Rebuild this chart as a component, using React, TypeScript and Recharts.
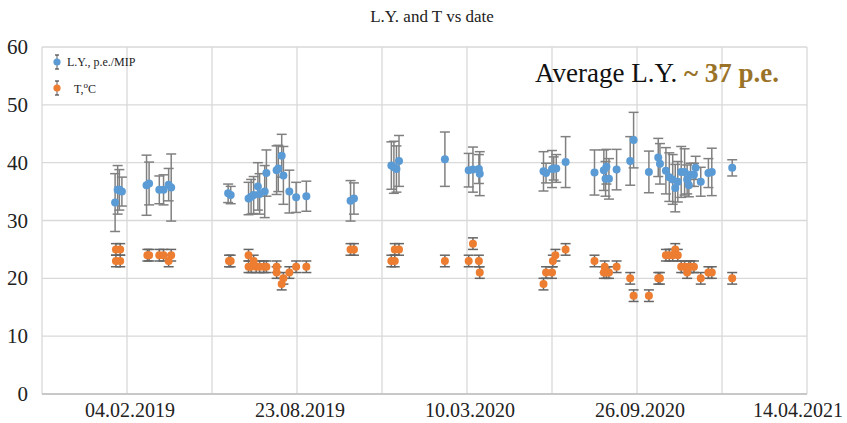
import React from 'react';
import {
  ScatterChart,
  Scatter,
  XAxis,
  YAxis,
  CartesianGrid,
  ErrorBar,
} from 'recharts';

// days counted from 04.02.2019
const lyDays = [
  -14, -11, -9, -6, 23, 26, 38, 43, 49, 52,
  119, 122, 143, 146, 149, 154, 156, 162, 164, 176,
  178, 182, 184, 191, 199, 211, 263, 267, 311, 314,
  317, 320, 374, 402, 407, 414, 415, 490, 493, 500,
  502, 505, 516, 550, 561, 563, 564, 567, 576, 592,
  596, 614, 625, 627, 634, 638, 642, 645, 648, 652,
  656, 659, 661, 663, 667, 669, 675, 684, 688, 712,
];
const lyValues = [
  33.1, 35.3, 35.3, 35.0, 36.1, 36.4, 35.3, 35.3, 36.2, 35.7,
  34.7, 34.4, 33.8, 34.1, 34.4, 35.9, 34.6, 35.0, 38.2, 38.7,
  39.0, 41.2, 37.8, 35.0, 34.0, 34.2, 33.4, 33.8, 39.5, 39.2,
  38.9, 40.3, 40.6, 38.7, 38.8, 38.9, 38.1, 38.5, 38.2, 38.9,
  39.0, 39.0, 40.1, 38.3, 38.7, 37.2, 39.3, 37.2, 38.8, 40.3,
  43.9, 38.4, 40.9, 39.8, 38.6, 37.5, 37.1, 35.6, 36.7, 38.4,
  38.4, 37.1, 36.1, 37.9, 37.9, 39.1, 36.7, 38.2, 38.4, 39.1,
];
const lyErrors = [
  5, 4.2, 3.5, 2.5, 5.2, 3.7, 2.4, 2.6, 2.8, 5.8,
  1.6, 1.5, 2.8, 3, 3.2, 4.1, 3.5, 4.5, 4, 4.2,
  4, 3.7, 5, 3.7, 2.6, 2.6, 3.5, 2.7, 4.1, 4.5,
  4, 4.4, 4.7, 2.9, 3.9, 2.5, 3.8, 3.4, 1.7, 3.2,
  2, 2.4, 4.4, 3.9, 3.5, 3, 3, 3.5, 3.5, 4.2,
  4.8, 3.6, 3.3, 3.5, 4, 4.2, 4.3, 4.1, 3.5, 4.4,
  4, 2.5, 2, 2, 2, 2, 2.5, 2.5, 4.1, 1.4,
];

const tDays = [
  -13, -8, -13, -8, 24, 26, 38, 43, 49, 52,
  120, 122, 143, 143, 146, 149, 152, 156, 161, 164,
  176, 176, 182, 184, 191, 199, 211, 263, 267, 311,
  315, 315, 320, 374, 402, 407, 414, 415, 490, 493,
  500, 501, 504, 516, 550, 561, 562, 564, 567, 576,
  592, 596, 614, 625, 627, 634, 638, 642, 645, 648,
  652, 656, 659, 661, 663, 667, 675, 684, 688, 712,
];
const tValues = [
  25, 25, 23, 23, 24, 24, 24, 24, 23, 24,
  23, 23, 24, 22, 22, 23, 22, 22, 22, 22,
  22, 21, 19, 20, 21, 22, 22, 25, 25, 23,
  23, 25, 25, 23, 23, 26, 23, 21, 19, 21,
  21, 23, 24, 25, 23, 21, 22, 21, 21, 22,
  20, 17, 17, 20, 20, 24, 24, 24, 25, 24,
  22, 22, 21, 22, 22, 22, 20, 21, 21, 20,
];
const T_ERROR = 1;

const xTicks = [-100, 0, 100, 200, 300, 400, 500, 600, 700, 800];
const xLabels: Record<number, string> = {
  0: '04.02.2019',
  200: '23.08.2019',
  400: '10.03.2020',
  600: '26.09.2020',
  800: '14.04.2021',
};
const yTicks = [0, 10, 20, 30, 40, 50, 60];

const lyPoints = lyDays.map((d, i) => ({ day: d, value: lyValues[i], err: lyErrors[i] }));
const tPoints = tDays.map((d, i) => ({ day: d, value: tValues[i], err: T_ERROR }));

const SERIF = 'Liberation Serif';
const BLUE = '#5B9BD5';
const ORANGE = '#ED7D31';

const Dot = (color: string) => (props: any) => (
  <circle cx={props.cx} cy={props.cy} r={4} fill={color} />
);

const XTick = (props: any) => {
  const { x, y, payload } = props;
  const label = xLabels[payload.value];
  if (!label) return null;
  const dx = payload.value === 800 ? -9 : 3;
  return (
    <text x={x + dx} y={y + 15} textAnchor="middle" style={{ fontFamily: SERIF, fontSize: 20 }} fill="#222">
      {label}
    </text>
  );
};

const YTick = (props: any) => {
  const { x, y, payload } = props;
  return (
    <text x={x - 6} y={y + 7} textAnchor="end" style={{ fontFamily: SERIF, fontSize: 21 }} fill="#222">
      {payload.value}
    </text>
  );
};

const LegendIcon = ({ color }: { color: string }) => (
  <svg width={10} height={20} style={{ verticalAlign: 'middle' }}>
    <line x1={5} y1={3} x2={5} y2={17} stroke="#777" strokeWidth={1.2} />
    <line x1={3} y1={3} x2={7} y2={3} stroke="#444" strokeWidth={1.2} />
    <line x1={3} y1={17} x2={7} y2={17} stroke="#444" strokeWidth={1.2} />
    <circle cx={5} cy={10} r={3.6} fill={color} />
  </svg>
);

export default function App() {
  return (
    <div style={{ position: 'absolute', left: 0, top: 0, width: 847, height: 423, background: '#fff', fontFamily: SERIF }}>
      <ScatterChart
        width={847}
        height={423}
        margin={{ top: 47, right: 40, bottom: 0, left: 0 }}
      >
        <CartesianGrid stroke="#d9d9d9" strokeWidth={1.3} />
        <XAxis
          type="number"
          dataKey="day"
          domain={[-100, 800]}
          ticks={xTicks}
          interval={0}
          height={29}
          tickLine={false}
          axisLine={{ stroke: '#bfbfbf', strokeWidth: 1.3 }}
          tick={<XTick />}
        />
        <YAxis
          type="number"
          dataKey="value"
          domain={[0, 60]}
          ticks={yTicks}
          width={42}
          tickLine={false}
          axisLine={false}
          tick={<YTick />}
        />
        <Scatter data={lyPoints} shape={Dot(BLUE)} isAnimationActive={false}>
          <ErrorBar dataKey="err" direction="y" width={5} stroke="#808080" strokeWidth={1.5} />
        </Scatter>
        <Scatter data={tPoints} shape={Dot(ORANGE)} isAnimationActive={false}>
          <ErrorBar dataKey="err" direction="y" width={5} stroke="#666" strokeWidth={1.5} />
        </Scatter>
      </ScatterChart>

      <div
        style={{
          position: 'absolute', left: 0, top: 7, width: 864, textAlign: 'center',
          fontSize: 17, color: '#222',
        }}
      >
        L.Y. and T vs date
      </div>

      <div style={{ position: 'absolute', left: 52, top: 52, fontSize: 12, color: '#222' }}>
        <div style={{ display: 'flex', alignItems: 'center', height: 20 }}>
          <LegendIcon color={BLUE} />
          <span style={{ marginLeft: 5 }}>L.Y., p.e./MIP</span>
        </div>
        <div style={{ display: 'flex', alignItems: 'center', height: 20, marginTop: 6 }}>
          <LegendIcon color={ORANGE} />
          <span style={{ marginLeft: 12 }}>
            T,<sup style={{ fontSize: 9 }}>o</sup>C
          </span>
        </div>
      </div>

      <div
        style={{
          position: 'absolute', left: 535, top: 58, fontSize: 27,
          color: '#111', whiteSpace: 'nowrap',
        }}
      >
        Average L.Y. <b style={{ color: '#9A7328' }}>~ 37 p.e.</b>
      </div>
    </div>
  );
}
